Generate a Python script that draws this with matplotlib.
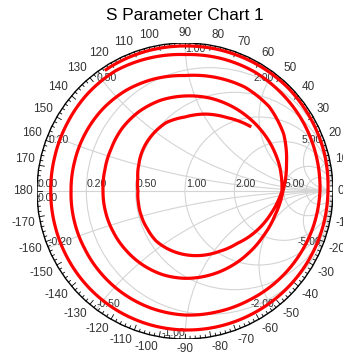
import numpy as np
import matplotlib
matplotlib.use("Agg")
import matplotlib.pyplot as plt
from matplotlib.patches import Circle

plt.rcParams['font.family'] = ['Liberation Sans', 'DejaVu Sans']

title = "S Parameter Chart 1"

# Smith chart grid values
resistance_values = [0.2, 0.5, 1.0, 2.0, 5.0, 10.0]
reactance_values = [0.2, 0.5, 1.0, 2.0, 5.0, 10.0]
resistance_labels = {0.0: "0.00", 0.2: "0.20", 0.5: "0.50", 1.0: "1.00", 2.0: "2.00", 5.0: "5.00"}
reactance_labels = {0.2: "0.20", 0.5: "0.50", 1.0: "1.00", 2.0: "2.00", 5.0: "5.00"}
angle_labels = list(range(-170, 190, 10))

# S11 trace: phase (deg, unwrapped) and magnitude
spiral_deg = [123, 120, 105, 90, 75, 60, 45, 30, 15, 0,
              -15, -30, -45, -60, -75, -90, -105, -120, -135, -150,
              -165, -180, -195, -210, -225, -240, -255, -270, -285, -300,
              -315, -330, -345, -360, -375, -390, -405, -420, -435, -450,
              -465, -480, -495, -510, -525, -540, -555, -570, -585, -600,
              -615, -630, -645, -660, -675, -690, -705, -720, -735, -750,
              -765, -780, -795, -810, -825, -840, -855, -870, -885, -900,
              -915, -930, -945, -960, -975, -990, -1005, -1020, -1035, -1050,
              -1065, -1080, -1095, -1110, -1125, -1140, -1155, -1170, -1185, -1200,
              -1215, -1230, -1245, -1260, -1275, -1290, -1305, -1320, -1335, -1350,
              -1365, -1380, -1395]
spiral_mag = [0.978, 0.979, 0.980, 0.980, 0.982, 0.984, 0.985, 0.980, 0.975, 0.966,
              0.962, 0.957, 0.952, 0.947, 0.943, 0.939, 0.934, 0.928, 0.921, 0.914,
              0.909, 0.907, 0.910, 0.918, 0.930, 0.938, 0.930, 0.922, 0.928, 0.932,
              0.928, 0.924, 0.918, 0.912, 0.900, 0.885, 0.870, 0.855, 0.845, 0.838,
              0.825, 0.810, 0.795, 0.782, 0.775, 0.770, 0.772, 0.778, 0.785, 0.788,
              0.785, 0.780, 0.795, 0.810, 0.805, 0.770, 0.710, 0.662, 0.630, 0.610,
              0.600, 0.595, 0.592, 0.590, 0.585, 0.575, 0.565, 0.558, 0.555, 0.554,
              0.560, 0.575, 0.600, 0.620, 0.635, 0.642, 0.650, 0.654, 0.657, 0.660,
              0.661, 0.655, 0.600, 0.550, 0.500, 0.470, 0.450, 0.430, 0.410, 0.390,
              0.360, 0.340, 0.325, 0.318, 0.330, 0.360, 0.400, 0.440, 0.480, 0.500,
              0.538, 0.572, 0.620]

W, H = 343, 360
fig = plt.figure(figsize=(W / 100, H / 100), dpi=100)
fig.patch.set_facecolor('white')

cx, cy, R = 185, 191, 148
rect = [(cx - R) / W, (H - cy - R) / H, 2 * R / W, 2 * R / H]

ax = fig.add_axes(rect)
ax.set_xlim(-1, 1)
ax.set_ylim(-1, 1)
ax.set_aspect('equal')
ax.axis('off')

grid_color = '#d4d4d4'
text_color = '#333333'
unit = Circle((0, 0), 1, transform=ax.transData)

for r in resistance_values:
    c = Circle((r / (1 + r), 0), 1 / (1 + r), fill=False, ec=grid_color, lw=0.8)
    ax.add_patch(c)
for x in reactance_values:
    for s in (1, -1):
        c = Circle((1, s / x), 1 / x, fill=False, ec=grid_color, lw=0.8)
        ax.add_patch(c)
        c.set_clip_path(unit)
ax.plot([-1, 1], [0, 0], color=grid_color, lw=0.8)
ax.add_patch(Circle((0, 0), 1, fill=False, ec='black', lw=1.0))

# angle ticks around the rim
for d in range(0, 360, 2):
    t = np.radians(d)
    ln = 0.035 if d % 10 == 0 else 0.018
    ax.plot([np.cos(t), (1 - ln) * np.cos(t)], [np.sin(t), (1 - ln) * np.sin(t)],
            color='black', lw=0.6)

for a in angle_labels:
    t = np.radians(a)
    c, s = np.cos(t), np.sin(t)
    ha = 'left' if c > 0.05 else ('right' if c < -0.05 else 'center')
    va = 'bottom' if s > 0.05 else ('top' if s < -0.05 else 'center')
    ax.text(1.03 * c, 1.03 * s, str(a), ha=ha, va=va, fontsize=8.5,
            color=text_color, clip_on=False)

# resistance labels along the real axis
for r, lab in resistance_labels.items():
    g = (r - 1) / (r + 1)
    ax.text(g + 0.005, 0.012, lab, ha='left', va='bottom', fontsize=7.6, color=text_color)
ax.text(-0.995, -0.012, "0.00", ha='left', va='top', fontsize=7.6, color=text_color)

# reactance labels at the rim
for x, lab in reactance_labels.items():
    g = (1j * x - 1) / (1j * x + 1)
    ha = 'left' if g.real <= 0 else 'right'
    ax.text(g.real, g.imag - 0.005, lab, ha=ha, va='top', fontsize=7.6, color=text_color)
    gn = np.conj(g)
    ha = 'left' if gn.real < 0 else 'right'
    ax.text(gn.real, gn.imag + 0.005, "-" + lab, ha=ha, va='bottom', fontsize=7.6,
            color=text_color)

fig.text(cx / W, 1 - 15 / H, title, ha='center', va='center', fontsize=12.3, color='black')

# trace on a polar overlay sharing the same frame
pax = fig.add_axes(rect, projection='polar')
pax.set_ylim(0, 1)
pax.axis('off')
pax.patch.set_alpha(0)
trace, = pax.plot(np.radians(spiral_deg), spiral_mag, color='red', lw=2.3)
trace.get_path()._interpolation_steps = 12

fig.savefig('out.png', dpi=100)
